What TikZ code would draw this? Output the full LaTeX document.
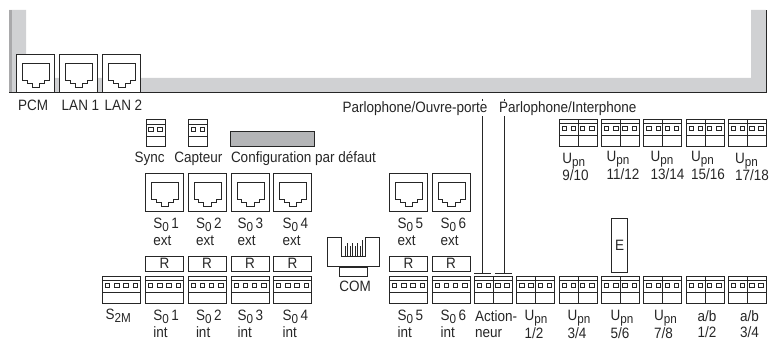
\documentclass[tikz,border=0pt]{standalone}
\usepackage{fontspec}
\setmainfont[FakeStretch=0.9]{Liberation Sans}
\definecolor{ink}{HTML}{262626}
\definecolor{band}{HTML}{D0D1D3}
\definecolor{bandedge}{HTML}{A9A9AB}
\definecolor{cfg}{HTML}{B4B5B7}
\newcommand{\lowr}[1]{\raisebox{-0.2em}{\fontsize{13}{12}\selectfont #1}}
\newcommand{\Szero}{S\lowr{0}\,}
\newcommand{\Upn}{U\lowr{pn}}
\tikzset{
  x=1pt,y=-1pt,
  lbl/.style={inner sep=0pt,outer sep=0pt,anchor=west,text=ink,font=\fontsize{15}{16.5}\selectfont,align=left},
  lbltwo/.style={lbl,anchor=north west},
  clbl/.style={lbl,anchor=center,align=center},
  boxn/.style={draw=ink,line width=1pt,fill=white,inner sep=0pt,outer sep=0pt,anchor=north west,text=ink,font=\fontsize{15}{16.5}\selectfont},
  rjbox/.style={boxn,minimum width=38pt,minimum height=38pt},
  rbox/.style={boxn,minimum width=38pt,minimum height=15.5pt},
  conn/.style={boxn,minimum width=38pt,minimum height=27pt},
  conntwo/.style={boxn,minimum width=19pt,minimum height=27pt},
  sq/.style={line width=0.9pt,draw=ink,fill=white},
  inner/.style={line width=1pt,draw=ink},
  toplbl/.style={lbl,fill=white,inner xsep=0pt,inner ysep=1pt},
}
\newcommand{\rj}[3]{%
  \node[rjbox] (#1) at (#2,#3) {};
  \draw[inner] ([xshift=6pt,yshift=-9pt]#1.north west) -- ++(27,0) -- ++(0,17) -- ++(-5,0) -- ++(0,3.2) -- ++(-5,0) -- ++(0,4) -- ++(-7.5,0) -- ++(0,-4) -- ++(-5,0) -- ++(0,-3.2) -- ++(-4.5,0) -- cycle;
}
\newcommand{\term}[4]{%
  \node[conn] (#1) at (#2,#3) {};
  \draw[inner,line width=0.7pt] ([yshift=-3.6pt]#1.north west) -- ([yshift=-3.6pt]#1.north east);
  \draw[inner] ([yshift=-15.6pt]#1.north west) -- ([yshift=-15.6pt]#1.north east);
  \foreach \d in {5.2,14.4,23.6,32.8}
    \draw[sq] ([xshift=\d pt-2.2pt,yshift=-7pt]#1.north west) rectangle ++(4.4,4.4);
  \ifnum#4=1 \draw[inner] (#1.north) -- (#1.south); \fi
}
\newcommand{\termtwo}[3]{%
  \node[conntwo] (#1) at (#2,#3) {};
  \draw[inner,line width=0.7pt] ([yshift=-4.5pt]#1.north west) -- ([yshift=-4.5pt]#1.north east);
  \draw[inner] ([yshift=-17pt]#1.north west) -- ([yshift=-17pt]#1.north east);
  \foreach \d in {5,14}
    \draw[sq] ([xshift=\d pt-2.2pt,yshift=-7.8pt]#1.north west) rectangle ++(4.4,4.4);
}
\begin{document}
\begin{tikzpicture}[line width=1pt,color=ink]
\useasboundingbox (0,0) rectangle (769,342);
% housing
\fill[band] (9,10) -- (26,10) -- (26,78) -- (751,78) -- (751,10) -- (766,10) -- (766,93) -- (9,93) -- cycle;
\fill[bandedge] (9,10) rectangle (11.5,93);
\draw[line width=1pt] (9,93) -- (766.3,93) -- (766.3,10);
% sockets top
\rj{pcm}{16.5}{54.5}
\rj{lanone}{59.5}{54.5}
\rj{lantwo}{102.5}{54.5}
\node[clbl] (pcml) at (33,105) {PCM};
\node[clbl] (lan1l) at (80.5,105) {LAN 1};
\node[clbl] (lan2l) at (123.5,105) {LAN 2};
% small blocks
\termtwo{sync}{146}{119.5}
\termtwo{capt}{188.7}{119.5}
\node[boxn,fill=cfg,minimum width=84pt,minimum height=15pt] (config) at (230.3,132) {};
\node[clbl] (syncl) at (149.7,159) {Sync};
\node[clbl] (captl) at (198.3,159) {Capteur};
\node[lbl] (cfgl) at (231,159) {Configuration par défaut};
% S0 ext
\rj{aext}{145.5}{173.5}
\rj{bext}{188}{173.5}
\rj{cext}{231}{173.5}
\rj{dext}{273.5}{173.5}
\rj{eext}{389.5}{173.5}
\rj{fext}{432}{173.5}
\node[lbltwo] (aextl) at (153.3,218.5) {\Szero 1\\ext};
\node[lbltwo] (bextl) at (196,218.5) {\Szero 2\\ext};
\node[lbltwo] (cextl) at (237.7,218.5) {\Szero 3\\ext};
\node[lbltwo] (dextl) at (282.7,218.5) {\Szero 4\\ext};
\node[lbltwo] (eextl) at (397.7,218.5) {\Szero 5\\ext};
\node[lbltwo] (fextl) at (440.7,218.5) {\Szero 6\\ext};
% R boxes
\node[rbox] (ra) at (145.5,256) {R};
\node[rbox] (rb) at (188,256) {R};
\node[rbox] (rc) at (231,256) {R};
\node[rbox] (rd) at (273.5,256) {R};
\node[rbox] (re) at (389.5,256) {R};
\node[rbox] (rf) at (432,256) {R};
% bottom row terminals
\term{stm}{102.5}{276.5}{0}
\term{ia}{145.5}{276.5}{0}
\term{ib}{188}{276.5}{0}
\term{ic}{231}{276.5}{0}
\term{id}{273.5}{276.5}{0}
\term{ie}{389.5}{276.5}{0}
\term{if}{432}{276.5}{0}
\term{act}{474.3}{276.5}{1}
\term{ua}{516.7}{276.5}{1}
\term{ub}{559}{276.5}{1}
\term{uc}{601.5}{276.5}{1}
\term{ud}{643.8}{276.5}{1}
\term{abone}{686}{276.5}{1}
\term{abtwo}{728.3}{276.5}{1}
% top row terminals
\term{ue}{559}{119.5}{1}
\term{uf}{601.5}{119.5}{1}
\term{ug}{643.8}{119.5}{1}
\term{uh}{686}{119.5}{1}
\term{ui}{728.3}{119.5}{1}
% E
\node[boxn,minimum width=15.6pt,minimum height=53pt] (eb) at (611.7,219) {E};
% COM plug
\coordinate (coma) at (327.3,237.3);
\coordinate (comb) at (379.3,237.3);
\draw (341.7,237.3) -- (coma) -- (327.3,266.7) -- (379.3,266.7) -- (comb) -- (365,237.3);
\draw (341.7,237.3) -- (341.7,256.7) -- (365,256.7) -- (365,237.3);
\node[draw=ink,fill=white,inner sep=0pt,minimum width=28pt,minimum height=9pt,anchor=north] (comtab) at (353.3,266.7) {};
\foreach \cx/\cy in {345/246,347.5/243,350/246,352.5/243,355/246,357.5/243,360/246,362.5/240}
  \draw[line width=0.7pt] (\cx,\cy) -- (\cx,256.7);
\node[clbl] (coml) at (355,286.7) {COM};
% bottom labels
\node[lbl] (stml) at (105.7,316) {S\lowr{2M}};
\node[lbltwo] (ial) at (153.3,310.5) {\Szero 1\\int};
\node[lbltwo] (ibl) at (196,310.5) {\Szero 2\\int};
\node[lbltwo] (icl) at (237.7,310.5) {\Szero 3\\int};
\node[lbltwo] (idl) at (282.7,310.5) {\Szero 4\\int};
\node[lbltwo] (iel) at (397.7,310.5) {\Szero 5\\int};
\node[lbltwo] (ifl) at (440.7,310.5) {\Szero 6\\int};
\node[lbltwo] (actl) at (475,310.5) {Action-\\neur};
\node[lbltwo] (ual) at (524.5,310.5) {\Upn\\1/2};
\node[lbltwo] (ubl) at (567.5,310.5) {\Upn\\3/4};
\node[lbltwo] (ucl) at (610.7,310.5) {\Upn\\5/6};
\node[lbltwo] (udl) at (654,310.5) {\Upn\\7/8};
\node[lbltwo] (abol) at (697.7,310.5) {a/b\\1/2};
\node[lbltwo] (abtl) at (740,310.5) {a/b\\3/4};
% top row labels
\node[lbltwo] (uel) at (562.3,153) {\Upn\\9/10};
\node[lbltwo] (ufl) at (606.7,151.5) {\Upn\\11/12};
\node[lbltwo] (ugl) at (650.7,151.5) {\Upn\\13/14};
\node[lbltwo] (uhl) at (691,151.5) {\Upn\\15/16};
\node[lbltwo] (uil) at (735,153) {\Upn\\17/18};
% door leads
\coordinate (topa) at (482.3,99);
\coordinate (topb) at (504,99);
\coordinate (capa) at (482.3,273);
\coordinate (capb) at (504,273);
\draw (topa) -- (capa);
\draw (topb) -- (capb);
\draw ([xshift=-8pt]capa) -- ([xshift=8.7pt]capa);
\draw ([xshift=-8.7pt]capb) -- ([xshift=8.3pt]capb);
\node[toplbl] (pa) at (342.5,108.5) {Parlophone/Ouvre-porte};
\node[toplbl] (pb) at (499,108.5) {Parlophone/Interphone};
\end{tikzpicture}
\end{document}
